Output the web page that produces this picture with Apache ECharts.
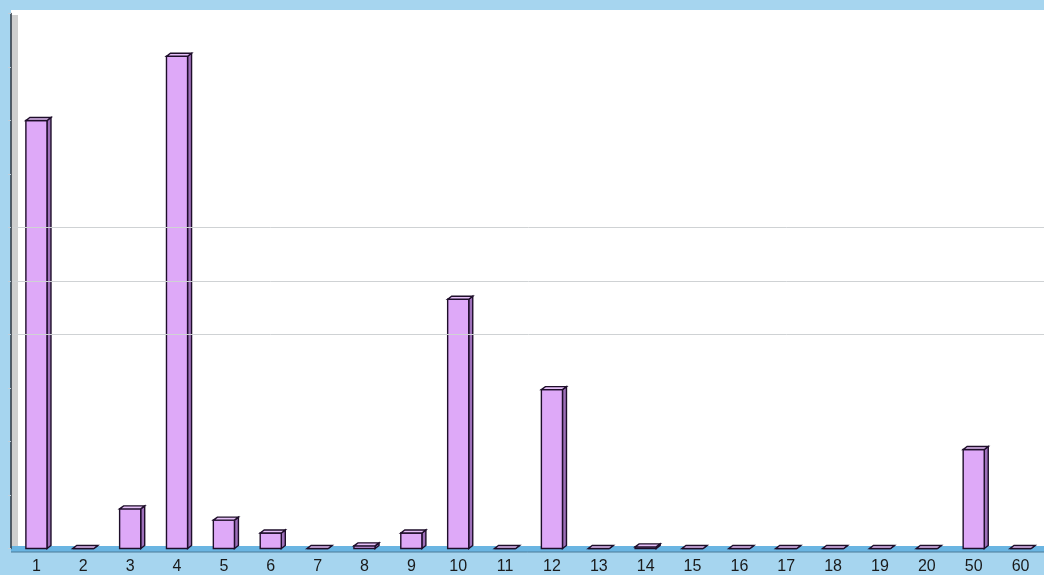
<!DOCTYPE html>
<html>
<head>
<meta charset="utf-8">
<script src="https://cdn.jsdelivr.net/npm/echarts@6/dist/echarts.min.js"></script>
<style>
html,body{margin:0;padding:0;background:#a6d5ef;}
#c{width:1044px;height:575px;}
</style>
</head>
<body>
<div id="c"></div>
<script>
// Data
const categories = ['1','2','3','4','5','6','7','8','9','10','11','12','13','14','15','16','17','18','19','20','50','60'];
const values = [8.0, 0, 0.74, 9.2, 0.53, 0.29, 0, 0.05, 0.29, 4.66, 0, 2.97, 0, 0.03, 0, 0, 0, 0, 0, 0, 1.85, 0];
const yTicks = [0, 10, 1]; // min, max, interval (unlabelled axis)
const gridLevels = [4, 5, 6];

const chart = echarts.init(document.getElementById('c'), null, {renderer: 'canvas'});

function renderBar(params, api) {
  const idx = api.value(0);
  const v = api.value(1);
  const base = api.coord([idx, 0]);
  const top = api.coord([idx, v]);
  const band = api.size([1, 0])[0];
  const w = band * 0.45;
  const dx = 4, dy = 3;
  const x0 = base[0] - w / 2;
  const x1 = x0 + w;
  const yb = base[1];
  const yt = top[1];
  const stroke = '#1e0e2a';
  return {
    type: 'group',
    children: [
      {type: 'polygon', shape: {points: [[x1, yt], [x1 + dx, yt - dy], [x1 + dx, yb - dy], [x1, yb]]},
        style: {fill: '#9e70ba', stroke: stroke, lineWidth: 1.4}},
      {type: 'rect', shape: {x: x0, y: yt, width: w, height: yb - yt},
        style: {fill: '#dea9f8', stroke: stroke, lineWidth: 1.4}},
      {type: 'polygon', shape: {points: [[x0, yt], [x0 + dx, yt - dy], [x1 + dx, yt - dy], [x1, yt]]},
        style: {fill: '#e6c0f8', stroke: stroke, lineWidth: 1.4}}
    ]
  };
}

const option = {
  backgroundColor: '#a6d5ef',
  animation: false,
  graphic: [
    {type: 'rect', z: -10, shape: {x: 11, y: 10, width: 1033, height: 542}, style: {fill: '#ffffff'}},
    {type: 'rect', z: -9, shape: {x: 11, y: 15, width: 7, height: 535}, style: {fill: '#cfcfcf'}},
    {type: 'rect', z: -9, shape: {x: 11, y: 546, width: 1033, height: 6}, style: {fill: '#6ab5e2'}},
    {type: 'line', z: -8, shape: {x1: 11, y1: 552, x2: 1044, y2: 552}, style: {stroke: '#4a7a98', lineWidth: 1}}
  ],
  grid: {left: 13, width: 1034, top: 13.5, bottom: 26.5, containLabel: false},
  xAxis: {
    type: 'category',
    data: categories,
    axisLine: {show: false},
    axisTick: {show: false},
    splitLine: {show: false},
    axisLabel: {color: '#1a1a1a', fontSize: 16, fontFamily: 'Liberation Sans, Arial, sans-serif', margin: 10}
  },
  yAxis: {
    type: 'value',
    min: yTicks[0], max: yTicks[1], interval: yTicks[2],
    offset: 2,
    axisLine: {show: true, lineStyle: {color: '#2b3540', width: 1.5}},
    axisTick: {show: true, length: 3, inside: false, lineStyle: {color: '#c0d0dc'}},
    axisLabel: {show: false},
    splitLine: {show: false}
  },
  series: [{
    type: 'custom',
    renderItem: renderBar,
    encode: {x: 0, y: 1},
    data: values.map((v, i) => [i, v]),
    clip: false,
    markLine: {
      silent: true,
      symbol: 'none',
      label: {show: false},
      lineStyle: {color: '#cfd2d4', type: 'solid', width: 1},
      data: gridLevels.map(g => ({yAxis: g}))
    }
  }]
};
chart.setOption(option);
</script>
</body>
</html>
